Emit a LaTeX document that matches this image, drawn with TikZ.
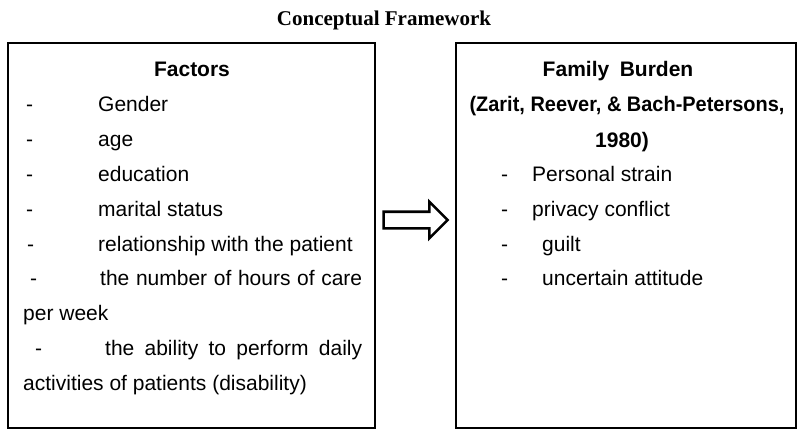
\documentclass[tikz,border=0pt]{standalone}
\usepackage{fontspec}
\setmainfont{Liberation Sans}
\newfontfamily\titrefont{Liberation Serif}
\usetikzlibrary{shapes.arrows}
\usetikzlibrary{calc}

\begin{document}
\begin{tikzpicture}[x=1pt,y=-1pt]
\tikzstyle{cadre}=[draw,line width=1.2pt,minimum width=367pt,minimum height=385pt,inner sep=0pt]
\tikzset{ligne/.style={anchor=base west,inner sep=0pt,font=\fontsize{21}{25}\selectfont},
titre/.style={anchor=base,inner sep=0pt,font=\fontsize{21}{25}\selectfont\bfseries},
fleche/.style={draw,line width=2.6pt,single arrow,single arrow head extend=10pt,
inner sep=0pt,text width=0pt,text height=14pt,text depth=0pt,minimum height=64pt}}
\useasboundingbox (0,0) rectangle (803,433);
\node [titre,font=\fontsize{21}{25}\titrefont\bfseries] (cf) at (384,26) {Conceptual Framework};
\node [cadre] (facteurs) at (191.5,235.5) {};
\node [cadre,minimum width=340pt] (fardeau) at (626,235.5) {};
\node [fleche] (lien) at ($(facteurs.east)!0.5!(fardeau.west)+(-4,-15.5)$) {};
% left box
\node [titre] (fac) at (192,77) {Factors};
\node [ligne] (t1) at (26,112) {-};
\node [ligne] (f1) at (98,112) {Gender};
\node [ligne] (t2) at (26,146.75) {-};
\node [ligne] (f2) at (98,146.75) {age};
\node [ligne] (t3) at (26,181.5) {-};
\node [ligne] (f3) at (98,181.5) {education};
\node [ligne] (t4) at (26,216.25) {-};
\node [ligne] (f4) at (98,216.25) {marital status};
\node [ligne] (t5) at (27,251) {-};
\node [ligne] (f5) at (98,251) {relationship with the patient};
\node [ligne] (t6) at (30,285.75) {-};
\node [ligne] (f6) at (100,285.75) {\makebox[262pt][s]{the number of hours of care}};
\node [ligne] (f6b) at (23,320.5) {per week};
\node [ligne] (t7) at (35,355.25) {-};
\node [ligne] (f7) at (105,355.25) {\makebox[257pt][s]{the ability to perform daily}};
\node [ligne] (f7b) at (23,390) {activities of patients (disability)};
% right box
\node [titre] (fam) at (618,77) {Family\hspace{0.5em}Burden};
\node [titre] (zar) at (627,112) {\scalebox{0.95}[1]{(Zarit, Reever, \& Bach-Petersons,}};
\node [titre] (an) at (622,147) {1980)};
\node [ligne] (r1) at (501,181.5) {-};
\node [ligne] (b1) at (532,181.5) {Personal strain};
\node [ligne] (r2) at (501,216.25) {-};
\node [ligne] (b2) at (532,216.25) {privacy conflict};
\node [ligne] (r3) at (501,251) {-};
\node [ligne] (b3) at (542,251) {guilt};
\node [ligne] (r4) at (501,285.75) {-};
\node [ligne] (b4) at (542,285.75) {uncertain attitude};
\end{tikzpicture}
\end{document}
